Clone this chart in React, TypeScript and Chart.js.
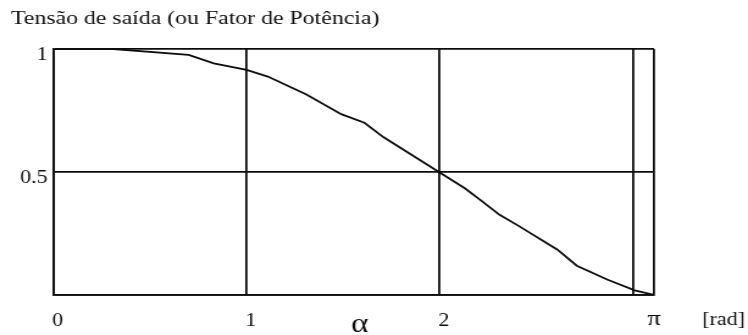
import React, { useEffect, useRef } from 'react';
import { Chart, registerables } from 'chart.js';

Chart.register(...registerables);

// ---- data ----
const TITLE = 'Tensão de saída (ou Fator de Potência)';
const X_MAX = 3.11; // right edge of the plot, labelled π
const X_TICKS = [0, 1, 2, 3, X_MAX];
const X_TICK_LABELS = ['0', '1', '2', '', ''];
const Y_TICKS = [0, 0.5, 1];
const Y_TICK_LABELS = ['', '0.5', '1'];
const X_AXIS_LABEL = 'α';
const X_END_LABEL = 'π';
const UNIT_LABEL = '[rad]';

const ALPHA = [0, 0.31, 0.7, 0.83, 1.0, 1.11, 1.31, 1.49, 1.61, 1.71, 2.0, 2.13, 2.21, 2.31, 2.4, 2.61, 2.71, 2.87, 3.01, 3.11];
const VOUT = [1.0, 1.0, 0.976, 0.942, 0.915, 0.888, 0.815, 0.735, 0.7, 0.641, 0.498, 0.434, 0.387, 0.326, 0.285, 0.184, 0.119, 0.062, 0.019, 0.0];

// ---- look ----
const INK = '#0d0d0d';
const FONT = '"Liberation Serif", "Times New Roman", serif';
const DRAW_W = 613; // drawing width; the canvas is shown stretched to 748px like the reference
const VIEW_W = 748;
const H = 335;

const extraText = {
  id: 'extraText',
  afterDraw(chart: any) {
    const { ctx, chartArea } = chart;
    const xs = chart.scales.x;
    ctx.save();
    ctx.fillStyle = INK;
    ctx.textAlign = 'center';
    ctx.textBaseline = 'alphabetic';
    ctx.font = `27px ${FONT}`;
    ctx.fillText(X_AXIS_LABEL, xs.getPixelForValue(X_MAX / 2) + 5, chartArea.bottom + 37);
    ctx.font = `22px ${FONT}`;
    ctx.fillText(X_END_LABEL, xs.getPixelForValue(X_MAX), chartArea.bottom + 30);
    ctx.font = `18px ${FONT}`;
    ctx.fillText(UNIT_LABEL, xs.getPixelForValue(X_MAX) + 57, chartArea.bottom + 30);
    ctx.restore();
  },
};

export default function App() {
  const ref = useRef<HTMLCanvasElement | null>(null);

  useEffect(() => {
    document.body.style.margin = '0';
    const canvas = ref.current;
    if (!canvas) return;
    const points = ALPHA.map((x, i) => ({ x, y: VOUT[i] }));
    const chart = new Chart(canvas, {
      type: 'line',
      data: {
        datasets: [
          {
            data: points,
            borderColor: INK,
            borderWidth: 1.8,
            pointRadius: 0,
            tension: 0,
            fill: false,
          },
        ],
      },
      options: {
        animation: false,
        responsive: false,
        devicePixelRatio: 1,
        events: [],
        layout: { padding: { left: 9, right: 77, top: 0, bottom: 0 } },
        plugins: {
          legend: { display: false },
          tooltip: { enabled: false },
          title: {
            display: true,
            text: TITLE,
            align: 'start',
            color: INK,
            font: { family: FONT, size: 19.5, weight: 'normal' },
            padding: { top: 7.4, bottom: 18.2 },
          },
        },
        scales: {
          x: {
            type: 'linear',
            min: 0,
            max: X_MAX,
            afterBuildTicks: (s: any) => {
              s.ticks = X_TICKS.map((v) => ({ value: v }));
            },
            afterFit: (s: any) => {
              s.height = 40;
            },
            ticks: {
              autoSkip: false,
              maxRotation: 0,
              padding: 15,
              labelOffset: 3.5,
              color: INK,
              font: { family: FONT, size: 18 },
              callback: (_v: any, i: number) => X_TICK_LABELS[i] ?? '',
            },
            grid: { color: INK, lineWidth: 1.8, drawTicks: false, tickLength: 0 },
            border: { color: INK, width: 1.8 },
          },
          y: {
            type: 'linear',
            min: 0,
            max: 1,
            afterBuildTicks: (s: any) => {
              s.ticks = Y_TICKS.map((v) => ({ value: v }));
            },
            afterFit: (s: any) => {
              s.width = 34.8;
            },
            ticks: {
              autoSkip: false,
              padding: 4.7,
              labelOffset: 6,
              color: INK,
              font: { family: FONT, size: 18 },
              callback: (_v: any, i: number) => Y_TICK_LABELS[i] ?? '',
            },
            grid: { color: INK, lineWidth: 1.8, drawTicks: false, tickLength: 0 },
            border: { color: INK, width: 1.8 },
          },
        },
      } as any,
      plugins: [extraText],
    });
    return () => chart.destroy();
  }, []);

  return (
    <canvas
      ref={ref}
      width={DRAW_W}
      height={H}
      style={{ display: 'block', width: `${VIEW_W}px`, height: `${H}px` }}
    />
  );
}
